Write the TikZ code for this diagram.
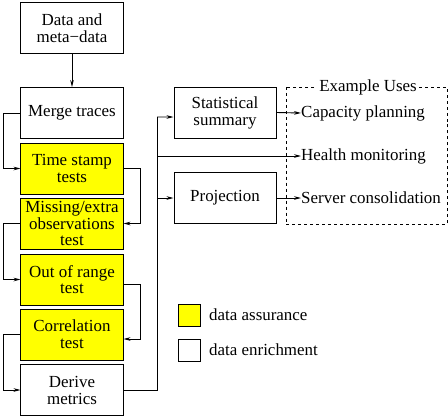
\documentclass[tikz,border=0pt]{standalone}
\usepackage{fontspec}
\setmainfont{Liberation Serif}
\usetikzlibrary{arrows.meta,calc}
\definecolor{assure}{RGB}{255,255,0}
\tikzset{
  txt/.style={font=\fontsize{17}{17}\selectfont},
  stage/.style={txt, draw, line width=1bp, minimum width=102bp, minimum height=51bp,
    inner sep=0pt, align=center},
  check/.style={stage, fill=assure},
  link/.style={line width=0.9bp, -{Stealth[length=7bp,width=3.6bp]}},
  wire/.style={line width=0.9bp},
  use/.style={txt, anchor=west, inner sep=0pt},
  key/.style={draw, line width=0.8bp, minimum size=22bp, inner sep=0pt}
}
\begin{document}
\begin{tikzpicture}[x=1bp,y=-1bp]
\useasboundingbox (0,0) rectangle (448,416);

% processing pipeline
\node[stage] (data)  at (72,28)    {Data and\\meta−data};
\node[stage] (merge) at (72,113)   {Merge traces};
\node[check] (ts)    at (72,168.5) {\\[-6bp]Time stamp\\tests};
\node[check] (miss)  at (72,223.5) {Missing/extra\\observations\\[-1bp]test};
\node[check] (oor)   at (72,279.5) {Out of range\\[-1bp]test};
\node[check] (corr)  at (72,334.5) {Correlation\\test};
\node[stage] (der)   at (72,390)   {Derive\\metrics};

% analysis
\node[stage] (stat) at (225,112.5) {Statistical\\summary};
\node[stage] (proj) at (225,198)   {Projection};

% example uses
\draw[dashed, line width=0.8bp] (286,87) rectangle (447,224);
\node[txt, fill=white, inner xsep=2bp, inner ysep=0pt] (ex) at (368,87) {Example Uses};
\node[use] (cap)  at (301,113) {Capacity planning};
\node[use] (hlth) at (301,156) {Health monitoring};
\node[use] (srv)  at (301,198) {Server consolidation};

% legend
\node[key, fill=assure] (ka) at (189,315) {};
\node[key] (ke) at (189,350) {};
\node[use] (la) at (209,315) {data assurance};
\node[use] (le) at (209,350) {data enrichment};

% pipeline connectors
\draw[link] (data) -- (merge);
\draw[link] (merge.west) -- ++(-17,0) |- (ts.west);
\draw[link] (ts.east) -- ++(17,0) |- (miss.east);
\draw[link] (miss.west) -- ++(-17,0) |- (oor.west);
\draw[link] ([yshift=-4.5bp]oor.east) -- ++(17,0) |- ([yshift=-4.5bp]corr.east);
\draw[link] (corr.west) -- ++(-17,0) |- (der.west);

% fan-out to analysis and uses
\coordinate (bus) at (157,117);
\draw[wire] (der.east) -| (bus);
\draw[link] (bus) -- ([yshift=-4.5bp]stat.west);
\draw[link] (bus |- hlth.west) -- (hlth.west);
\draw[link] (bus |- proj.west) -- (proj.west);
\draw[link] (stat.east) -- (cap.west);
\draw[link] (proj.east) -- (srv.west);
\end{tikzpicture}
\end{document}
